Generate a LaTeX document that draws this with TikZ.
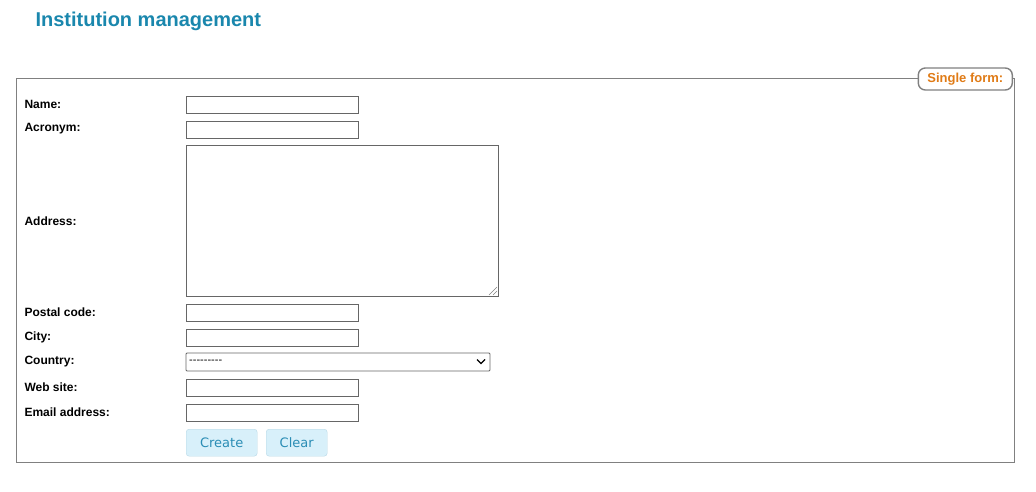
\documentclass[tikz,border=0pt]{standalone}
\usepackage{fontspec}
\setmainfont{Liberation Sans}
\newfontfamily\btnfont{DejaVu Sans}
\definecolor{titleblue}{HTML}{1A87AD}
\definecolor{legendorange}{HTML}{E07B16}
\definecolor{framegray}{HTML}{808080}
\definecolor{btnfill}{HTML}{D8F0FA}
\definecolor{btnline}{HTML}{B8D8E6}
\definecolor{btntext}{HTML}{2A8DB5}
\begin{document}
\begin{tikzpicture}
	[x=1pt,y=-1pt,
		field label/.style={anchor=west,font=\bfseries\fontsize{12}{14}\selectfont},
		input box/.style={draw=black!60,line width=0.8pt},
		button box/.style={draw=btnline,fill=btnfill,rounded corners=3pt,text=btntext,
			font=\btnfont\fontsize{13}{15}\selectfont,inner sep=0pt}]

    \useasboundingbox (0,0) rectangle (1036,492);

    \node[anchor=west,text=titleblue,font=\bfseries\fontsize{20}{24}\selectfont] (title) at (32,21) {Institution management};

    % fieldset
    \draw[framegray,line width=1pt] (16,79) rectangle (1014,462);
    \node[draw=framegray,line width=1.4pt,fill=white,rounded corners=7pt,text=legendorange,
        font=\bfseries\fontsize{13}{15}\selectfont,minimum height=22pt,minimum width=94pt,inner xsep=6pt,anchor=east] (legend) at (1013,79) {Single form:};

    % labels
    \node[field label] (lname) at (21,104) {Name:};
    \node[field label] (lacro) at (21,129) {Acronym:};
    \node[field label] (laddr) at (21,221) {Address:};
    \node[field label] (lpost) at (21,312) {Postal code:};
    \node[field label] (lcity) at (21,337) {City:};
    \node[field label] (lcountry) at (21,362) {Country:};
    \node[field label] (lweb) at (21,387) {Web site:};
    \node[field label] (lmail) at (21,412) {Email address:};

    % inputs
    \draw[input box] (186,96) rectangle (358,113);
    \draw[input box] (186,121) rectangle (358,138);
    \draw[input box] (186,145) rectangle (498,296);
    \draw[black!50,line width=0.6pt] (489,295) -- (497,287) (493,295) -- (497,291);
    \draw[input box] (186,304) rectangle (358,321);
    \draw[input box] (186,329) rectangle (358,346);
    \draw[input box,rounded corners=1pt] (186,353) rectangle (490,371);
    \node[anchor=west,font=\fontsize{11}{13}\selectfont,inner sep=0pt] (choice) at (189,362) {-{}-{}-{}-{}-{}-{}-{}-{}-};
    \draw[line width=1.4pt] (477,359.5) -- (481,363.5) -- (485,359.5);
    \draw[input box] (186,379) rectangle (358,396);
    \draw[input box] (186,404) rectangle (358,421);

    % buttons
    \node[button box,minimum width=71pt,minimum height=27pt,anchor=north west] (create) at (186,429) {Create};
    \node[button box,minimum width=61pt,minimum height=27pt,anchor=north west] (clear) at (266,429) {Clear};

\end{tikzpicture}
\end{document}
